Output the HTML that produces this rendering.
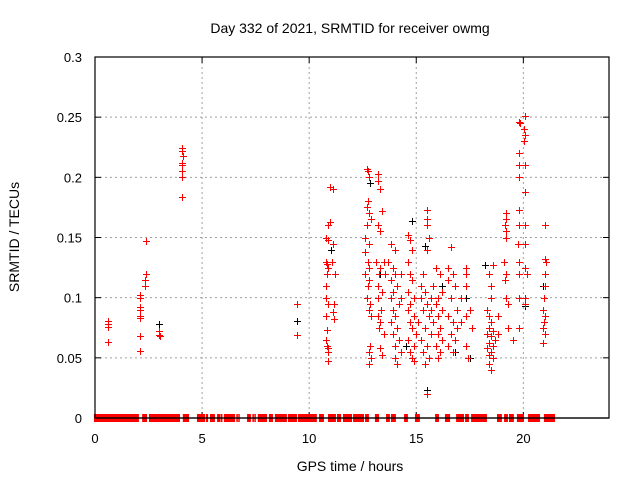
<!DOCTYPE html>
<html><head><meta charset="utf-8"><style>
body{margin:0;background:#fff}
svg{display:block;font-family:"Liberation Sans",sans-serif}
</style></head><body>
<svg id="chart" width="640" height="480"></svg>
<script>
const xTicks=[0,5,10,15,20];
const yTicks=[0,0.05,0.1,0.15,0.2,0.25,0.3];
const yTickLabels=["0","0.05","0.1","0.15","0.2","0.25","0.3"];
const zeroRanges=[[-0.05,2.05],[2.2,2.43],[2.52,3.97],[4.1,4.39],[4.76,5.14],[5.18,5.28],[5.37,5.6],[5.7,5.84],[5.86,5.95],[6.02,6.54],[6.6,6.67],[6.69,6.76],[7.1,7.28],[7.35,7.42],[7.44,7.51],[7.6,8.03],[8.12,8.31],[8.4,8.96],[9.01,9.43],[9.48,10.36],[10.46,10.69],[10.88,11.25],[11.3,11.49],[11.58,12.0],[12.05,12.56],[12.61,12.79],[13.07,13.26],[13.59,13.77],[13.82,14.05],[14.43,14.61],[14.94,15.17],[15.88,16.06],[16.34,16.58],[16.86,17.23],[17.28,17.46],[17.56,18.3],[18.77,19.0],[19.1,19.28],[19.33,19.56],[19.7,20.03],[20.22,20.78],[20.96,21.48]];
const redPoints=[[0.6,0.081],[0.6,0.078],[0.6,0.076],[0.6,0.063],
[2.1,0.102],[2.1,0.1],[2.1,0.092],[2.1,0.09],[2.1,0.085],[2.1,0.083],[2.1,0.068],[2.1,0.056],
[2.4,0.147],[2.4,0.12],[2.35,0.115],[2.35,0.11],[3.0,0.072],[3.0,0.069],[3.05,0.068],
[4.05,0.224],[4.05,0.222],[4.1,0.218],[4.05,0.212],[4.05,0.21],[4.05,0.205],[4.05,0.2],[4.05,0.184],
[9.45,0.095],[9.45,0.069],
[10.8,0.15],[10.9,0.148],[10.8,0.13],[10.85,0.128],[10.9,0.125],[10.85,0.12],[10.8,0.11],[10.8,0.1],[10.9,0.095],[10.8,0.085],[10.85,0.073],[10.8,0.065],[10.85,0.06],[10.9,0.058],[10.9,0.055],[10.9,0.047],[10.9,0.16],[10.95,0.163],[11.1,0.19],[10.95,0.192],[11.1,0.145],[11.15,0.095],[11.1,0.088],[11.15,0.082],[11.05,0.13],[11.2,0.12],
[12.6,0.15],[12.7,0.207],[12.75,0.205],[12.8,0.2],[12.75,0.18],[12.7,0.175],[12.8,0.17],[12.7,0.16],[12.9,0.165],[12.8,0.145],[12.6,0.138],[12.75,0.13],[12.8,0.125],[12.6,0.12],[12.8,0.115],[12.75,0.11],[12.7,0.1],[12.85,0.095],[12.8,0.09],[12.9,0.085],[12.85,0.06],[12.8,0.055],[12.9,0.05],[12.8,0.045],
[13.2,0.203],[13.2,0.197],[13.3,0.19],[13.4,0.172],[13.2,0.16],[13.3,0.155],[13.1,0.13],[13.3,0.125],[13.25,0.12],[13.2,0.11],[13.4,0.105],[13.2,0.1],[13.35,0.09],[13.2,0.085],[13.3,0.08],[13.25,0.075],[13.5,0.07],[13.3,0.058],[13.4,0.052],[13.5,0.13],[13.55,0.12],
[13.8,0.145],[14.0,0.14],[13.7,0.13],[13.9,0.125],[14.0,0.12],[13.8,0.115],[14.1,0.11],[13.9,0.105],[13.8,0.1],[14.2,0.095],[13.9,0.09],[14.0,0.085],[13.8,0.08],[14.1,0.075],[13.9,0.07],[14.2,0.065],[14.0,0.06],[14.3,0.055],[14.0,0.05],[14.1,0.045],[14.3,0.12],[14.3,0.1],
[14.6,0.152],[14.7,0.148],[14.8,0.14],[14.6,0.13],[14.7,0.12],[14.8,0.115],[14.6,0.105],[14.9,0.1],[14.7,0.095],[14.6,0.09],[14.9,0.085],[14.7,0.08],[14.8,0.075],[15.0,0.07],[14.6,0.065],[14.9,0.06],[14.7,0.055],[14.8,0.05],[14.9,0.047],
[15.5,0.173],[15.5,0.165],[15.5,0.16],[15.6,0.15],[15.5,0.14],[15.3,0.12],[15.2,0.11],[15.4,0.105],[15.2,0.1],[15.5,0.095],[15.3,0.09],[15.6,0.085],[15.1,0.08],[15.4,0.075],[15.7,0.07],[15.2,0.065],[15.5,0.06],[15.3,0.055],[15.6,0.05],[15.4,0.045],[15.7,0.1],[15.7,0.09],[15.5,0.02],
[15.9,0.125],[16.1,0.12],[15.8,0.11],[16.2,0.105],[16.0,0.1],[15.9,0.095],[16.2,0.09],[16.0,0.085],[15.8,0.08],[16.1,0.075],[16.0,0.07],[16.2,0.065],[15.9,0.06],[16.1,0.055],[16.0,0.05],
[16.6,0.142],[16.5,0.125],[16.7,0.12],[16.5,0.115],[16.8,0.11],[16.6,0.1],[16.9,0.09],[16.5,0.085],[16.7,0.08],[16.9,0.075],[16.6,0.07],[16.8,0.065],[16.5,0.06],[16.7,0.055],
[17.3,0.125],[17.3,0.12],[17.3,0.11],[17.1,0.1],[17.5,0.09],[17.3,0.085],[17.1,0.08],[17.6,0.075],[17.3,0.06],[17.4,0.05],
[18.4,0.12],[18.5,0.11],[18.5,0.1],[18.6,0.127],[18.3,0.09],[18.4,0.085],[18.5,0.08],[18.4,0.075],[18.6,0.072],[18.3,0.07],[18.5,0.068],[18.7,0.065],[18.4,0.062],[18.6,0.06],[18.3,0.058],[18.5,0.055],[18.4,0.052],[18.6,0.05],[18.4,0.045],[18.5,0.04],[18.8,0.07],[18.8,0.085],
[19.2,0.17],[19.2,0.165],[19.15,0.16],[19.2,0.155],[19.2,0.15],[19.1,0.13],[19.2,0.12],[19.15,0.115],[19.2,0.1],[19.3,0.095],[19.3,0.075],[19.5,0.065],
[19.8,0.246],[19.85,0.245],[19.8,0.22],[19.8,0.21],[19.8,0.2],[19.8,0.173],[19.8,0.16],[19.75,0.145],[19.8,0.13],[19.8,0.12],[19.8,0.1],[19.8,0.075],
[20.1,0.251],[20.05,0.24],[20.1,0.235],[20.05,0.23],[20.1,0.21],[20.1,0.188],[20.1,0.16],[20.1,0.145],[20.1,0.125],[20.15,0.12],[20.1,0.1],[20.1,0.095],
[21.0,0.16],[21.0,0.132],[21.05,0.13],[21.0,0.12],[21.0,0.11],[20.95,0.1],[20.9,0.09],[21.0,0.085],[20.95,0.08],[20.9,0.075],[21.0,0.07],[20.9,0.062]];
const grayPoints=[[3.0,0.078],[9.45,0.081],[12.85,0.195],[14.8,0.164],[19.2,0.17],[20.1,0.145],[20.1,0.093],[15.5,0.023],[17.5,0.05],[16.2,0.11],[19.8,0.13],[11.0,0.14],[15.4,0.143],[17.3,0.1],[18.2,0.127],[14.5,0.06],[20.9,0.11],[13.3,0.12],[16.8,0.055]];

const svg=document.getElementById('chart');
const NS='http://www.w3.org/2000/svg';
const L=95,R=609,T=57,B=418;
const xs=h=>L+(R-L)*h/24;
const ys=v=>B-(B-T)*v/0.3;
function mk(tag,attrs,parent){const e=document.createElementNS(NS,tag);for(const k in attrs)e.setAttribute(k,attrs[k]);(parent||svg).appendChild(e);return e;}

const grid=mk('g',{});


xTicks.forEach(t=>{if(t>0)mk('line',{x1:xs(t),x2:xs(t),y1:T,y2:B,stroke:'#a0a0a0','stroke-dasharray':'2,3'},grid);});
yTicks.forEach(t=>{if(t>0&&t<0.3)mk('line',{x1:L,x2:R,y1:ys(t),y2:ys(t),stroke:'#a0a0a0','stroke-dasharray':'2,3'},grid);});

const xa=mk('g',{'font-size':'13',fill:'#000','text-anchor':'middle'});


xTicks.forEach(t=>{
  mk('line',{x1:xs(t),x2:xs(t),y1:B,y2:B-6,stroke:'#000'},xa);
  mk('line',{x1:xs(t),x2:xs(t),y1:T,y2:T+6,stroke:'#000'},xa);
  const tx=mk('text',{x:xs(t),y:443},xa);tx.textContent=t;
});
const ya=mk('g',{'font-size':'13',fill:'#000','text-anchor':'end'});


yTicks.forEach((t,i)=>{
  mk('line',{x1:L,x2:L+6,y1:ys(t),y2:ys(t),stroke:'#000'},ya);
  mk('line',{x1:R,x2:R-6,y1:ys(t),y2:ys(t),stroke:'#000'},ya);
  const tx=mk('text',{x:82,y:ys(t)+5},ya);tx.textContent=yTickLabels[i];
});

const gp=mk('g',{stroke:'#000','stroke-width':1});


const rp=mk('g',{stroke:'#f00','stroke-width':1});


function plus(g,h,v){const x=Math.round(xs(h))+0.5,y=Math.round(ys(v))+0.5;
  const p=mk('path',{d:`M${x-3.5},${y}H${x+3.5}M${x},${y-3.5}V${y+3.5}`},g);
  
  }
grayPoints.forEach(p=>plus(gp,p[0],p[1]));
redPoints.forEach(p=>plus(rp,p[0],p[1]));
zeroRanges.forEach(r=>{
  const e=mk('rect',{x:xs(r[0]),y:B-4,width:Math.max(1,xs(r[1])-xs(r[0])),height:8,fill:'#f00',stroke:'none'},rp);
  
  
});

const frame=mk('rect',{x:L,y:T,width:R-L,height:B-T,fill:'none',stroke:'#000','stroke-width':1.2});


const base=mk('line',{x1:L,x2:R,y1:B,y2:B,stroke:'#000','stroke-width':1.2});



const title=mk('text',{x:350,y:33,'font-size':'14','text-anchor':'middle'});


title.textContent='Day 332 of 2021, SRMTID for receiver owmg';
const xl=mk('text',{x:350,y:471,'font-size':'14','text-anchor':'middle'});


xl.textContent='GPS time / hours';
const yl=mk('text',{x:0,y:0,'font-size':'14','text-anchor':'middle',transform:'translate(19,237) rotate(-90)'});


yl.textContent='SRMTID / TECUs';
</script>
</body></html>
